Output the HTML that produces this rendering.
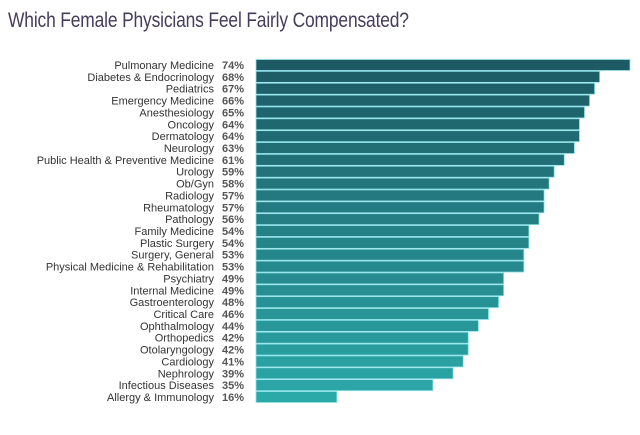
<!DOCTYPE html>
<html><head><meta charset="utf-8"><style>
body{margin:0;background:#fff;width:640px;height:435px;overflow:hidden;font-family:"Liberation Sans",sans-serif}
#title{position:absolute;left:8px;top:9px;font-size:21px;color:#463d5a;transform:scaleX(0.83);transform-origin:0 0;white-space:nowrap;letter-spacing:-0.2px}
</style></head><body>
<div id="title">Which Female Physicians Feel Fairly Compensated?</div>
<svg id="chart" width="640" height="435" style="position:absolute;left:0;top:0"></svg>
<script>
const categories=["Pulmonary Medicine","Diabetes & Endocrinology","Pediatrics","Emergency Medicine","Anesthesiology","Oncology","Dermatology","Neurology","Public Health & Preventive Medicine","Urology","Ob/Gyn","Radiology","Rheumatology","Pathology","Family Medicine","Plastic Surgery","Surgery, General","Physical Medicine & Rehabilitation","Psychiatry","Internal Medicine","Gastroenterology","Critical Care","Ophthalmology","Orthopedics","Otolaryngology","Cardiology","Nephrology","Infectious Diseases","Allergy & Immunology"];
const values=[74,68,67,66,65,64,64,63,61,59,58,57,57,56,54,54,53,53,49,49,48,46,44,42,42,41,39,35,16];
const svg=document.getElementById('chart');
const NS='http://www.w3.org/2000/svg';
const x0=256,pxPer=374/74,y0=65,step=(397-65)/28,bh=11;
const xs=v=>v*pxPer;
const ys=i=>y0+i*step;
function mix(a,b,t){return 'rgb('+a.map((c,k)=>Math.round(c+(b[k]-c)*t)).join(',')+')';}
const c1=[29,90,100],c2=[43,168,168];
categories.forEach((cat,i)=>{
  const y=ys(i);
  const r=document.createElementNS(NS,'rect');
  r.setAttribute('x',x0);r.setAttribute('y',y-bh/2);
  r.setAttribute('width',xs(values[i]));r.setAttribute('height',bh);
  r.setAttribute('fill',mix(c1,c2,i/(categories.length-1)));
  r.setAttribute('stroke','#8fe3ea');r.setAttribute('stroke-width','0.8');
  
  
  svg.appendChild(r);
  const t=document.createElementNS(NS,'text');
  t.setAttribute('x',214);t.setAttribute('y',y+4);t.setAttribute('text-anchor','end');
  t.setAttribute('font-size','11');t.setAttribute('fill','#333');
  t.textContent=cat;
  
  
  svg.appendChild(t);
  const p=document.createElementNS(NS,'text');
  p.setAttribute('x',222);p.setAttribute('y',y+4);
  p.setAttribute('font-size','11');p.setAttribute('font-weight','bold');p.setAttribute('fill','#555');
  p.textContent=values[i]+'%';
  
  
  svg.appendChild(p);
});
</script>
</body></html>
